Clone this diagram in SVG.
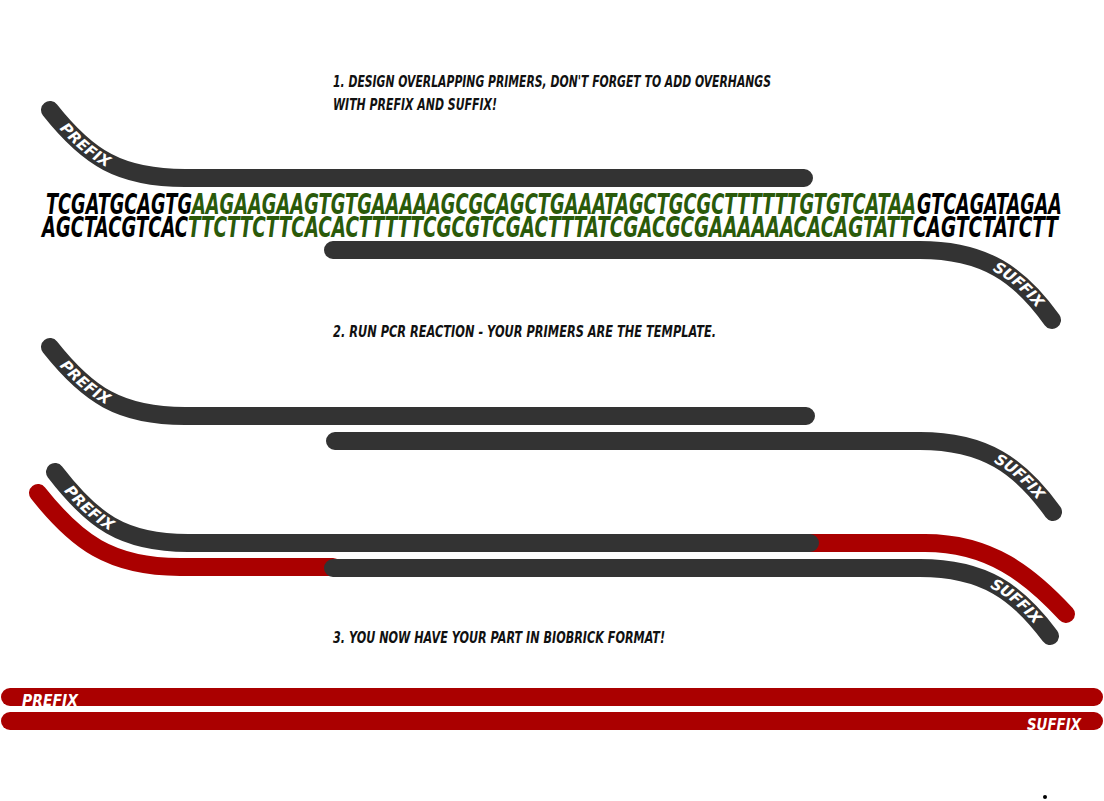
<svg xmlns="http://www.w3.org/2000/svg" width="1104" height="801" viewBox="0 0 1104 801">
<style>
.strand{fill:none;stroke-width:18;stroke-linecap:round;}
.dark{stroke:#333333;}
.red{stroke:#aa0000;}
.hdr{font-family:"DejaVu Sans","Liberation Sans",sans-serif;font-weight:bold;font-style:italic;font-size:16px;fill:#111;}
.seq{font-family:"DejaVu Sans","Liberation Sans",sans-serif;font-weight:bold;font-style:italic;font-size:29px;}
.lbl{font-family:"DejaVu Sans","Liberation Sans",sans-serif;font-weight:bold;font-style:italic;font-size:15px;fill:#fff;}
.blk{fill:#000;}
.grn{fill:#2a5a0a;}
</style>
<defs>
<path id="p1" d="M50,110 C88,158 120,178 185,178 L804,178"/>
<path id="s1" d="M333,250 L920,250 C985,250 1020,275 1052,320"/>
<path id="p2" d="M50,347 C88,395 120,416 185,416 L806,416"/>
<path id="s2" d="M335,441 L920,441 C985,441 1020,466 1053,512"/>
<path id="p3" d="M55,472 C92,520 122,543 188,543 L810,543"/>
<path id="s3" d="M333,568 L920,568 C985,568 1018,593 1050,636"/>
</defs>
<g id="step1">
<text class="hdr" x="333" y="87" textLength="438" lengthAdjust="spacingAndGlyphs">1. DESIGN OVERLAPPING PRIMERS, DON'T FORGET TO ADD OVERHANGS</text>
<text class="hdr" x="333" y="110" textLength="164" lengthAdjust="spacingAndGlyphs">WITH PREFIX AND SUFFIX!</text>
</g>
<g id="primer-prefix-1">
<use href="#p1" class="strand dark"/>
<text class="lbl" dy="5"><textPath href="#p1" startOffset="20">PREFIX</textPath></text>
</g>
<g id="sequence">
<text class="seq blk" x="46" y="214" textLength="146" lengthAdjust="spacingAndGlyphs">TCGATGCAGTG</text>
<text class="seq grn" x="192" y="214" textLength="724" lengthAdjust="spacingAndGlyphs">AAGAAGAAGTGTGAAAAAGCGCAGCTGAAATAGCTGCGCTTTTTTGTGTCATAA</text>
<text class="seq blk" x="917" y="214" textLength="145" lengthAdjust="spacingAndGlyphs">GTCAGATAGAA</text>
<text class="seq blk" x="42" y="237" textLength="146" lengthAdjust="spacingAndGlyphs">AGCTACGTCAC</text>
<text class="seq grn" x="188" y="237" textLength="724" lengthAdjust="spacingAndGlyphs">TTCTTCTTCACACTTTTTCGCGTCGACTTTATCGACGCGAAAAAACACAGTATT</text>
<text class="seq blk" x="913" y="237" textLength="145" lengthAdjust="spacingAndGlyphs">CAGTCTATCTT</text>
</g>
<g id="primer-suffix-1">
<use href="#s1" class="strand dark"/>
<text class="lbl" dy="5" text-anchor="end"><textPath href="#s1" startOffset="97.5%">SUFFIX</textPath></text>
</g>
<g id="step2">
<text class="hdr" x="333" y="337" textLength="383" lengthAdjust="spacingAndGlyphs">2. RUN PCR REACTION - YOUR PRIMERS ARE THE TEMPLATE.</text>
</g>
<g id="primer-prefix-2">
<use href="#p2" class="strand dark"/>
<text class="lbl" dy="5"><textPath href="#p2" startOffset="20">PREFIX</textPath></text>
</g>
<g id="primer-suffix-2">
<use href="#s2" class="strand dark"/>
<text class="lbl" dy="5" text-anchor="end"><textPath href="#s2" startOffset="97.5%">SUFFIX</textPath></text>
</g>
<g id="connectors">
<path class="strand red" d="M38,493 C76,541 110,567 180,567 L333,567"/>
<path class="strand red" d="M800,543 L925,543 C990,543 1030,575 1066,614"/>
</g>
<g id="pcr-prefix">
<use href="#p3" class="strand dark"/>
<text class="lbl" dy="5"><textPath href="#p3" startOffset="20">PREFIX</textPath></text>
</g>
<g id="pcr-suffix">
<use href="#s3" class="strand dark"/>
<text class="lbl" dy="5" text-anchor="end"><textPath href="#s3" startOffset="97.5%">SUFFIX</textPath></text>
</g>
<g id="step3">
<text class="hdr" x="333" y="643" textLength="332" lengthAdjust="spacingAndGlyphs">3. YOU NOW HAVE YOUR PART IN BIOBRICK FORMAT!</text>
</g>
<g id="biobrick-top">
<line class="strand red" x1="10" y1="697" x2="1094" y2="697"/>
<text class="lbl" x="22" y="706" font-size="21" textLength="56" lengthAdjust="spacingAndGlyphs">PREFIX</text>
</g>
<g id="biobrick-bottom">
<line class="strand red" x1="10" y1="721" x2="1094" y2="721"/>
<text class="lbl" x="1027" y="730" font-size="21" textLength="54" lengthAdjust="spacingAndGlyphs">SUFFIX</text>
</g>
<circle cx="1045" cy="797" r="2" fill="#000"/>
</svg>
